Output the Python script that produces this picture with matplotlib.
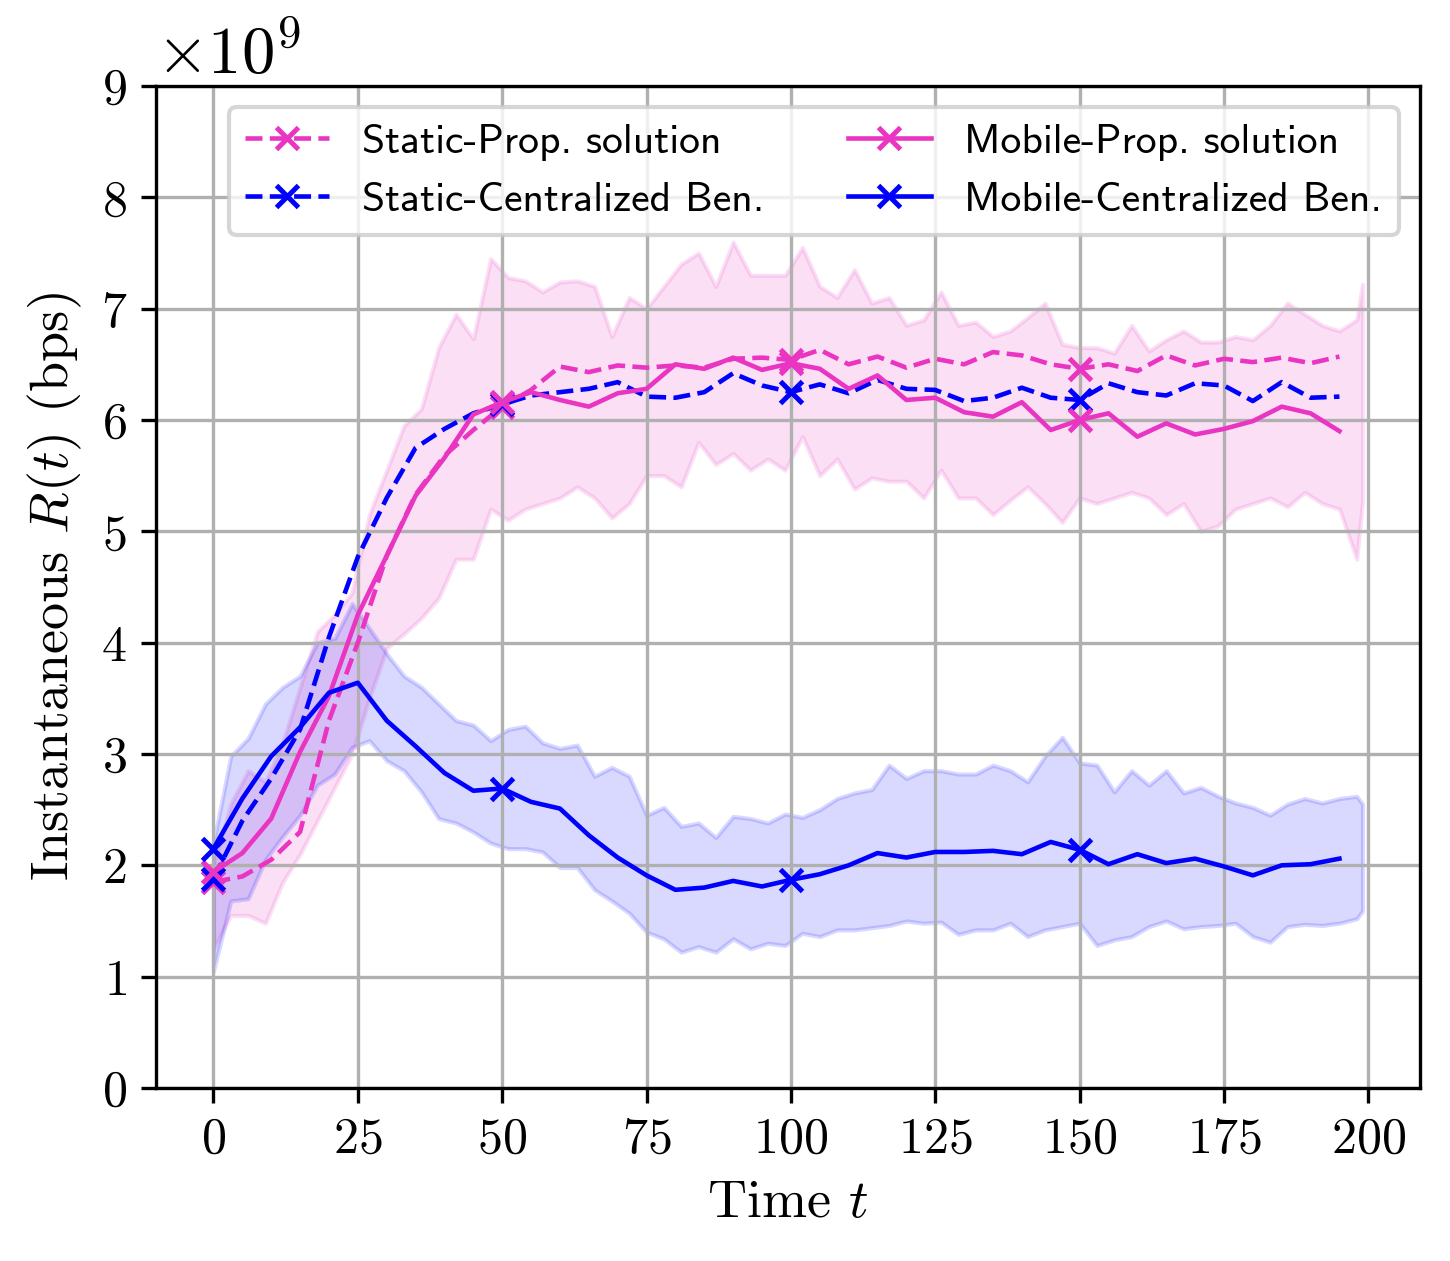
import numpy as np
import matplotlib
matplotlib.use("Agg")
import matplotlib.pyplot as plt

plt.rcParams['font.family'] = 'serif'
plt.rcParams['font.serif'] = ['cmr10', 'DejaVu Serif']
plt.rcParams['mathtext.fontset'] = 'cm'
plt.rcParams['axes.formatter.use_mathtext'] = True
plt.rcParams['axes.unicode_minus'] = False
plt.rcParams['font.size'] = 12

# smoothed curves, one value every 5 time steps (x 1e9 bps)
t_line = np.arange(0, 200, 5)
static_prop = [1.85, 1.90, 2.05, 2.30, 3.30, 4.00, 4.78, 5.33, 5.68, 5.91,
               6.12, 6.27, 6.48, 6.43, 6.49, 6.47, 6.49, 6.47, 6.55, 6.56,
               6.54, 6.63, 6.50, 6.57, 6.47, 6.55, 6.50, 6.61, 6.58, 6.50,
               6.46, 6.50, 6.44, 6.58, 6.49, 6.55, 6.52, 6.56, 6.51, 6.57]
static_cent = [1.88, 2.40, 2.78, 3.22, 4.05, 4.77, 5.30, 5.75, 5.92, 6.06,
               6.14, 6.22, 6.25, 6.28, 6.34, 6.21, 6.20, 6.25, 6.42, 6.31,
               6.25, 6.32, 6.24, 6.36, 6.28, 6.27, 6.17, 6.20, 6.29, 6.20,
               6.18, 6.33, 6.25, 6.22, 6.33, 6.31, 6.17, 6.34, 6.20, 6.21]
mobile_prop = [1.94, 2.11, 2.42, 3.02, 3.52, 4.25, 4.78, 5.32, 5.66, 6.05,
               6.16, 6.25, 6.18, 6.12, 6.24, 6.28, 6.50, 6.46, 6.56, 6.45,
               6.51, 6.46, 6.28, 6.40, 6.18, 6.20, 6.07, 6.03, 6.16, 5.91,
               6.00, 6.06, 5.85, 5.97, 5.87, 5.92, 5.99, 6.12, 6.06, 5.90]
mobile_cent = [2.15, 2.60, 2.98, 3.24, 3.55, 3.64, 3.30, 3.07, 2.83, 2.67,
               2.69, 2.57, 2.51, 2.27, 2.07, 1.91, 1.78, 1.80, 1.86, 1.81,
               1.87, 1.92, 2.00, 2.11, 2.07, 2.12, 2.12, 2.13, 2.10, 2.21,
               2.14, 2.01, 2.10, 2.02, 2.06, 1.99, 1.91, 2.00, 2.01, 2.06]

# spread of the raw runs, one value every 3 time steps plus the last one
t_band = list(range(0, 199, 3)) + [199]
prop_hi = [2.00, 2.55, 2.85, 2.75, 3.10, 3.60, 4.10, 4.25, 4.45, 5.15,
           5.55, 5.95, 6.10, 6.65, 6.95, 6.73, 7.45, 7.28, 7.25, 7.15,
           7.24, 7.25, 7.20, 6.75, 7.10, 7.00, 7.20, 7.40, 7.50, 7.20,
           7.60, 7.30, 7.30, 7.30, 7.55, 7.20, 7.10, 7.35, 7.05, 7.10,
           6.85, 6.90, 7.15, 6.85, 6.88, 6.75, 6.80, 6.92, 7.05, 6.68,
           6.65, 6.65, 6.60, 6.85, 6.62, 6.72, 6.80, 6.70, 6.70, 6.75,
           6.72, 6.85, 7.05, 6.95, 6.85, 6.80, 6.90, 7.22]
prop_lo = [1.25, 1.55, 1.55, 1.48, 1.85, 2.10, 2.40, 2.70, 3.00, 3.50,
           3.95, 4.08, 4.22, 4.40, 4.75, 4.75, 5.20, 5.10, 5.20, 5.25,
           5.30, 5.40, 5.30, 5.12, 5.25, 5.50, 5.50, 5.40, 5.80, 5.60,
           5.70, 5.55, 5.65, 5.55, 5.85, 5.50, 5.65, 5.38, 5.48, 5.45,
           5.45, 5.30, 5.55, 5.30, 5.30, 5.15, 5.28, 5.40, 5.25, 5.08,
           5.30, 5.25, 5.30, 5.35, 5.30, 5.15, 5.25, 5.00, 5.05, 5.20,
           5.25, 5.30, 5.22, 5.35, 5.25, 5.20, 4.75, 5.27]
cent_hi = [2.20, 2.98, 3.14, 3.45, 3.60, 3.70, 4.00, 4.04, 4.35, 4.13,
           3.90, 3.70, 3.60, 3.45, 3.30, 3.26, 3.12, 3.22, 3.25, 3.10,
           3.05, 3.08, 2.80, 2.88, 2.80, 2.45, 2.52, 2.35, 2.38, 2.25,
           2.44, 2.42, 2.38, 2.46, 2.43, 2.50, 2.60, 2.65, 2.68, 2.90,
           2.78, 2.85, 2.85, 2.82, 2.82, 2.90, 2.85, 2.75, 2.98, 3.15,
           2.92, 2.90, 2.66, 2.85, 2.72, 2.85, 2.65, 2.70, 2.62, 2.56,
           2.52, 2.45, 2.55, 2.60, 2.56, 2.60, 2.62, 2.55]
cent_lo = [1.05, 1.68, 1.70, 2.05, 2.26, 2.45, 2.72, 2.82, 3.06, 3.12,
           2.94, 2.85, 2.66, 2.42, 2.38, 2.30, 2.20, 2.15, 2.15, 2.12,
           1.98, 1.98, 1.78, 1.68, 1.57, 1.40, 1.34, 1.22, 1.27, 1.22,
           1.34, 1.25, 1.30, 1.28, 1.39, 1.36, 1.42, 1.42, 1.44, 1.46,
           1.50, 1.48, 1.49, 1.38, 1.42, 1.42, 1.48, 1.36, 1.42, 1.45,
           1.48, 1.28, 1.33, 1.36, 1.45, 1.50, 1.43, 1.45, 1.46, 1.48,
           1.36, 1.31, 1.45, 1.47, 1.46, 1.48, 1.52, 1.59]

pink = '#e935c2'
blue = '#0000ff'
scale = 1e9

fig = plt.figure(figsize=(1450 / 300, 1261 / 300), dpi=300)
ax = fig.add_axes([0.1076, 0.1372, 0.8717, 0.7946])

ax.fill_between(t_band, np.array(prop_lo) * scale, np.array(prop_hi) * scale,
                color=pink, alpha=0.15)
ax.fill_between(t_band, np.array(cent_lo) * scale, np.array(cent_hi) * scale,
                color=blue, alpha=0.15)

style = dict(lw=1.1, marker='x', ms=5.5, mew=1.2, markevery=10)
ax.plot(t_line, np.array(static_prop) * scale, '--', color=pink,
        label='Static-Prop. solution', **style)
ax.plot(t_line, np.array(static_cent) * scale, '--', color=blue,
        label='Static-Centralized Ben.', **style)
ax.plot(t_line, np.array(mobile_prop) * scale, '-', color=pink,
        label='Mobile-Prop. solution', **style)
ax.plot(t_line, np.array(mobile_cent) * scale, '-', color=blue,
        label='Mobile-Centralized Ben.', **style)

ax.set_xlim(-9.95, 208.95)
ax.set_ylim(0, 9e9)
ax.set_xticks(np.arange(0, 201, 25))
ax.set_yticks(np.arange(0, 10) * scale)
ax.grid(True)
ax.set_xlabel('Time $t$', fontsize=13)
ax.set_ylabel('Instantaneous $R(t)$ (bps)', fontsize=13)
ax.yaxis.get_offset_text().set_fontsize(16)
ax.legend(loc='upper right', ncol=2, prop={'family': 'cmss10', 'size': 10})

fig.savefig('out.png', dpi=300)
